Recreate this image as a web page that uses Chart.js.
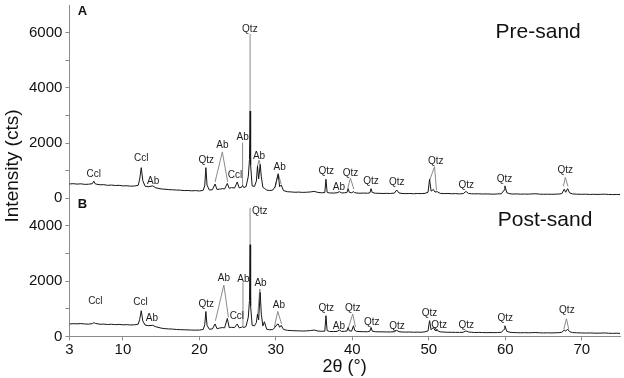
<!DOCTYPE html>
<html>
<head>
<meta charset="utf-8">
<script src="https://cdn.jsdelivr.net/npm/chart.js@4.4.1/dist/chart.umd.min.js"></script>
<style>
  body { margin: 0; background: #fff; }
</style>
</head>
<body>
<canvas id="xrdChart" width="624" height="378"></canvas>
<script>
// 2theta positions (deg) shared by both scans
const twoTheta = [
  3, 3.5, 4, 4.5, 5, 5.5, 6, 6.2, 6.4, 7,
  7.5, 8, 8.5, 9, 9.5, 10, 10.5, 11, 11.5, 12,
  12.2, 12.4, 12.6, 12.9, 13.3, 13.9, 14.3, 15, 15.5, 16,
  16.5, 17, 17.5, 18, 18.5, 19, 19.5, 20, 20.5, 20.7,
  20.85, 21, 21.3, 21.7, 22.05, 22.3, 22.6, 23, 23.3, 23.65,
  23.9, 24.2, 24.6, 24.95, 25.2, 25.5, 25.65, 25.8, 26.1, 26.4,
  26.55, 26.63, 26.7, 26.9, 27.2, 27.45, 27.6, 27.75, 27.95, 28.1,
  28.3, 28.5, 28.8, 29.2, 29.6, 29.9, 30.1, 30.3, 30.5, 30.7,
  31, 31.5, 32, 32.5, 33, 33.5, 34, 34.5, 35, 35.5,
  36, 36.4, 36.55, 36.7, 37, 37.5, 38, 38.3, 38.6, 39,
  39.3, 39.45, 39.6, 39.9, 40.15, 40.3, 40.6, 41, 41.5, 42,
  42.3, 42.45, 42.6, 43, 43.5, 44, 44.5, 45, 45.5, 45.8,
  46.1, 46.5, 47, 47.5, 48, 48.5, 49, 49.5, 49.9, 50.1,
  50.3, 50.6, 50.8, 51.1, 51.5, 52, 52.5, 53, 53.5, 54,
  54.5, 54.85, 55.2, 55.6, 56, 56.5, 57, 57.5, 58, 58.5,
  59, 59.5, 59.85, 59.95, 60.2, 60.6, 61, 61.5, 62, 62.5,
  63, 63.5, 64, 64.5, 65, 65.5, 66, 66.5, 67, 67.4,
  67.7, 67.9, 68.15, 68.4, 68.8, 69.3, 70, 70.5, 71, 71.5,
  72, 72.5, 73, 73.5, 74, 74.5, 75
];

// intensity (cts), panel A
const preSand = [
  520, 530, 515, 525, 505, 510, 530, 620, 520, 490,
  495, 470, 480, 465, 470, 450, 455, 440, 445, 470,
  700, 1110, 640, 440, 420, 450, 380, 340, 330, 315,
  310, 300, 295, 280, 285, 270, 280, 265, 290, 450,
  1110, 480, 300, 310, 520, 320, 330, 350, 340, 540,
  360, 390, 370, 590, 380, 400, 470, 390, 420, 800,
  1400, 3160, 1200, 450, 430, 620, 1170, 700, 1230, 780,
  400, 360, 300, 280, 300, 420, 650, 870, 420, 480,
  280, 240, 230, 220, 225, 215, 220, 230, 250, 215,
  200, 210, 690, 220, 195, 190, 200, 240, 195, 200,
  210, 350, 220, 200, 240, 210, 190, 185, 190, 185,
  200, 350, 210, 185, 180, 175, 180, 175, 190, 300,
  195, 175, 170, 175, 165, 175, 170, 180, 220, 690,
  260, 320, 230, 240, 180, 170, 175, 165, 170, 160,
  170, 250, 175, 165, 160, 165, 155, 160, 155, 150,
  160, 165, 300, 450, 200, 165, 155, 160, 150, 155,
  150, 160, 165, 150, 145, 150, 145, 150, 155, 170,
  330, 220, 350, 200, 160, 150, 145, 150, 140, 145,
  140, 145, 150, 140, 135, 140, 135
];

// intensity (cts), panel B
const postSand = [
  450, 460, 455, 465, 450, 445, 460, 500, 470, 440,
  445, 430, 440, 425, 435, 420, 425, 415, 420, 440,
  620, 930, 560, 410, 390, 400, 350, 300, 280, 270,
  265, 250, 245, 240, 235, 230, 225, 230, 250, 420,
  900, 400, 260, 270, 450, 280, 300, 320, 310, 650,
  320, 330, 320, 450, 310, 330, 350, 320, 360, 700,
  1300, 3320, 1100, 400, 380, 500, 810, 600, 1590, 800,
  380, 530, 260, 240, 250, 330, 420, 450, 330, 400,
  250, 220, 210, 205, 200, 195, 200, 210, 230, 195,
  185, 190, 750, 210, 180, 175, 180, 230, 180, 185,
  195, 325, 200, 190, 385, 220, 180, 175, 170, 170,
  190, 325, 190, 170, 165, 165, 160, 160, 170, 220,
  170, 160, 155, 160, 150, 155, 150, 165, 200, 570,
  240, 325, 220, 210, 165, 155, 150, 150, 145, 145,
  150, 200, 160, 150, 140, 145, 140, 135, 140, 135,
  140, 150, 260, 385, 180, 150, 140, 135, 130, 135,
  130, 135, 140, 130, 125, 130, 125, 130, 135, 150,
  230, 190, 265, 170, 140, 130, 125, 120, 125, 120,
  115, 120, 125, 115, 110, 115, 110
];

const xTicks = [3, 10, 20, 30, 40, 50, 60, 70];

// phase labels: [text, 2theta, intensity]
const peakLabelsPre = [
  ['Ccl', 6.2, 870], ['Ccl', 12.4, 1450], ['Ab', 13.95, 625], ['Qtz', 20.9, 1390],
  ['Ab', 23.0, 1930], ['Ccl', 24.65, 845], ['Ab', 25.65, 2220], ['Qtz', 26.6, 6140],
  ['Ab', 27.8, 1530], ['Ab', 30.5, 1130], ['Qtz', 36.6, 990], ['Ab', 38.25, 385],
  ['Qtz', 39.75, 915], ['Qtz', 42.45, 625], ['Qtz', 45.8, 590], ['Qtz', 50.9, 1350],
  ['Qtz', 54.9, 480], ['Qtz', 59.9, 690], ['Qtz', 67.85, 1015]
];
const peakLabelsPost = [
  ['Ccl', 6.4, 1255], ['Ccl', 12.3, 1230], ['Ab', 13.8, 650], ['Qtz', 20.9, 1170],
  ['Ab', 23.2, 2110], ['Ccl', 24.9, 725], ['Ab', 25.75, 2075], ['Qtz', 27.9, 4525],
  ['Ab', 28.0, 1920], ['Ab', 30.4, 1135], ['Qtz', 36.6, 1015], ['Ab', 38.25, 360],
  ['Qtz', 40.05, 1015], ['Qtz', 42.55, 530], ['Qtz', 45.85, 385], ['Qtz', 50.1, 845],
  ['Qtz', 51.35, 410], ['Qtz', 54.9, 410], ['Qtz', 60.0, 665], ['Qtz', 68.05, 955]
];

// leader lines from labels to peaks: [2theta, intensity] points
const leadersPre = [
  [[22.05, 590], [23.0, 1680], [23.7, 590]],
  [[25.65, 480], [25.65, 2015]],
  [[26.63, 3160], [26.63, 5950]],
  [[27.6, 1170], [27.8, 1380], [27.95, 1230]],
  [[29.9, 385], [30.3, 905], [30.7, 505]],
  [[39.4, 350], [39.75, 735], [40.2, 325]],
  [[50.1, 650], [50.75, 1145], [51.0, 290]],
  [[67.6, 435], [67.85, 760], [68.2, 435]]
];
const leadersPost = [
  [[22.1, 570], [23.2, 1860], [23.8, 690]],
  [[25.7, 330], [25.7, 1955]],
  [[26.63, 3320], [26.63, 4660]],
  [[27.6, 690], [27.9, 1715], [27.95, 1590]],
  [[29.8, 325], [30.25, 905], [30.75, 450]],
  [[39.5, 325], [40.05, 810], [40.4, 350]],
  [[67.65, 260], [68.0, 640], [68.3, 260]]
];

const FONT = '"Liberation Sans", Arial, sans-serif';
const axisColor = '#8c8c8c';
const inkColor = '#111';

Chart.defaults.font.family = FONT;

function toPoints(ys) {
  return twoTheta.map((t, i) => ({ x: t, y: ys[i] }));
}

function leaderPoints(list) {
  const pts = [];
  list.forEach(seg => {
    seg.forEach(p => pts.push({ x: p[0], y: p[1] }));
    pts.push({ x: seg[seg.length - 1][0], y: null }); // break the line
  });
  return pts;
}

const annotate = {
  id: 'annotate',
  afterDatasetsDraw(chart) {
    const { ctx, scales } = chart;
    const x = scales.x, yA = scales.yA, yB = scales.yB;
    ctx.save();
    ctx.fillStyle = '#1c1c1c';
    ctx.textAlign = 'center';
    ctx.textBaseline = 'middle';
    ctx.font = '10px ' + FONT;
    peakLabelsPre.forEach(([t, th, v]) => ctx.fillText(t, x.getPixelForValue(th), yA.getPixelForValue(v)));
    peakLabelsPost.forEach(([t, th, v]) => ctx.fillText(t, x.getPixelForValue(th), yB.getPixelForValue(v)));

    // panel letters
    ctx.fillStyle = inkColor;
    ctx.font = 'bold 13px ' + FONT;
    ctx.fillText('A', x.getPixelForValue(4.7), yA.getPixelForValue(6780));
    ctx.fillText('B', x.getPixelForValue(4.7), yB.getPixelForValue(4770));

    // sample names
    ctx.font = '21px ' + FONT;
    ctx.fillText('Pre-sand', x.getPixelForValue(64.3), yA.getPixelForValue(6020));
    ctx.fillText('Post-sand', x.getPixelForValue(65.2), yB.getPixelForValue(4190));

    // shared y title
    ctx.font = '19px ' + FONT;
    ctx.translate(13, 166);
    ctx.rotate(-Math.PI / 2);
    ctx.fillText('Intensity (cts)', 0, 0);
    ctx.restore();
  }
};

function yScale(max, weight) {
  return {
    type: 'linear',
    position: 'left',
    stack: 'xrd',
    stackWeight: max / 1000,
    weight: weight,
    min: 0,
    max: max,
    // no extra label padding above/below the stacked panels
    afterFit: scale => { scale.paddingTop = 0; scale.paddingBottom = 0; },
    grid: { drawOnChartArea: false, tickLength: 4, color: axisColor },
    border: { color: axisColor },
    ticks: {
      stepSize: 1000,
      autoSkip: false,
      padding: 3,
      color: inkColor,
      font: { size: 15 },
      callback: v => (v === max ? null : (v % 2000 === 0 ? String(v) : ''))
    }
  };
}

new Chart(document.getElementById('xrdChart'), {
  type: 'line',
  data: {
    datasets: [
      { data: toPoints(preSand), yAxisID: 'yA', borderColor: '#161616', borderWidth: 1, pointRadius: 0, tension: 0 },
      { data: toPoints(postSand), yAxisID: 'yB', borderColor: '#161616', borderWidth: 1, pointRadius: 0, tension: 0 },
      { data: leaderPoints(leadersPre), yAxisID: 'yA', borderColor: '#8a8a8a', borderWidth: 1, pointRadius: 0, spanGaps: false },
      { data: leaderPoints(leadersPost), yAxisID: 'yB', borderColor: '#8a8a8a', borderWidth: 1, pointRadius: 0, spanGaps: false }
    ]
  },
  options: {
    responsive: false,
    animation: false,
    events: [],
    layout: { padding: { left: 26, right: 4, top: 5, bottom: 0 } },
    plugins: { legend: { display: false }, tooltip: { enabled: false } },
    scales: {
      x: {
        type: 'linear',
        min: 3,
        max: 75,
        afterBuildTicks: axis => { axis.ticks = xTicks.map(v => ({ value: v })); },
        grid: { drawOnChartArea: false, tickLength: 4, color: axisColor },
        border: { color: axisColor },
        ticks: { padding: 0, color: inkColor, font: { size: 15 }, maxRotation: 0, autoSkip: false },
        title: { display: true, text: '2θ (°)', color: inkColor, font: { size: 18 }, padding: { top: -2, bottom: 0 } }
      },
      yA: yScale(7000, 2),
      yB: yScale(5000, 1)
    }
  },
  plugins: [annotate]
});
</script>
</body>
</html>
